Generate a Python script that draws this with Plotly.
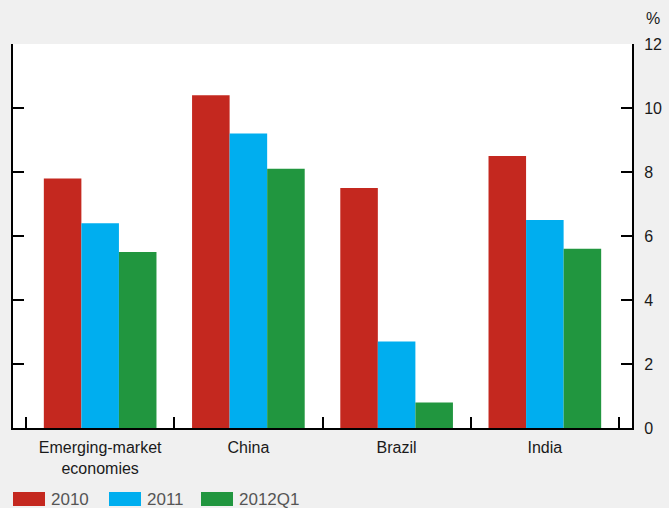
import plotly.graph_objects as go

categories = ["Emerging-market<br>economies", "China", "Brazil", "India"]
series_names = ["2010", "2011", "2012Q1"]
values_2010 = [7.8, 10.4, 7.5, 8.5]
values_2011 = [6.4, 9.2, 2.7, 6.5]
values_2012q1 = [5.5, 8.1, 0.8, 5.6]
y_ticks = [0, 2, 4, 6, 8, 10, 12]
colors = ["#c4281f", "#00aeef", "#21963f"]

W, H = 669, 508
L, R, T, B = 13, 632, 44, 428  # plot area in pixels

fig = go.Figure()
for name, vals, col in zip(series_names, [values_2010, values_2011, values_2012q1], colors):
    fig.add_trace(go.Bar(x=categories, y=vals, name=name, marker=dict(color=col, line=dict(width=0)),
                         showlegend=False, hoverinfo="skip"))

def px_x(p):
    return (p - L) / (R - L)

def px_y(p):
    return (B - p) / (B - T)

# custom legend
leg_x = [13, 109, 201]
for name, col, x0 in zip(series_names, colors, leg_x):
    fig.add_shape(type="rect", xref="paper", yref="paper",
                  x0=px_x(x0), x1=px_x(x0 + 32), y0=px_y(492), y1=px_y(506),
                  fillcolor=col, line=dict(width=0))
    fig.add_annotation(xref="paper", yref="paper", x=px_x(x0 + 36), y=px_y(499),
                       text=name, showarrow=False, xanchor="left", yanchor="middle",
                       font=dict(size=17, color="#555555"))

fig.add_annotation(xref="paper", yref="paper", x=px_x(653), y=px_y(18), text="%",
                   showarrow=False, xanchor="center", yanchor="middle",
                   font=dict(size=16, color="#1a1a1a"))

fig.update_layout(
    width=W, height=H,
    margin=dict(l=L, r=W - R, t=T, b=H - B, pad=0, autoexpand=False),
    paper_bgcolor="#f0f0f0",
    plot_bgcolor="#ffffff",
    barmode="group",
    bargap=0.24,
    bargroupgap=0,
    font=dict(family="Liberation Sans, Arial, sans-serif", size=16, color="#1a1a1a"),
    xaxis=dict(
        type="category",
        range=[-0.588, 3.588],
        tickson="boundaries",
        ticks="inside",
        ticklen=11,
        tickwidth=1.5,
        tickcolor="#000000",
        showline=True,
        linecolor="#000000",
        linewidth=2,
        showgrid=False,
        zeroline=False,
        automargin=False,
        ticklabelstandoff=4,
        tickfont=dict(size=16, color="#1a1a1a"),
    ),
    yaxis=dict(
        range=[0, 12],
        tickvals=y_ticks,
        side="right",
        ticks="inside",
        ticklen=11,
        tickwidth=1.5,
        tickcolor="#000000",
        showline=True,
        linecolor="#000000",
        linewidth=2,
        mirror="ticks",
        showgrid=False,
        zeroline=False,
        automargin=False,
        ticklabelstandoff=7,
        tickfont=dict(size=16, color="#1a1a1a"),
    ),
)

fig.write_html(
    "out.html",
    config={"displayModeBar": False},
    post_script="document.body.style.margin='0';document.body.style.overflow='hidden';document.body.style.background='#f0f0f0';",
)
